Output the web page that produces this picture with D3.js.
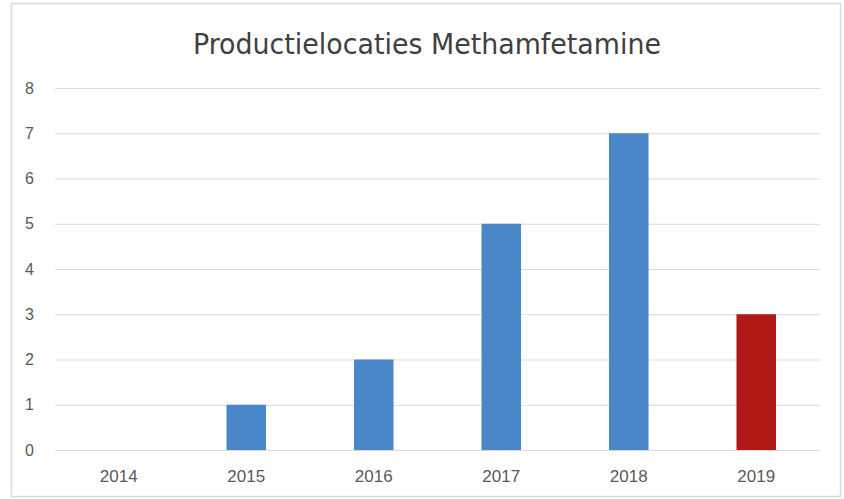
<!DOCTYPE html>
<html>
<head>
<meta charset="utf-8">
<script src="https://cdn.jsdelivr.net/npm/d3@7"></script>
<style>
  body { margin: 0; background: #fff; }
  svg { display: block; }
</style>
</head>
<body>
<svg id="chart"></svg>
<script>
// chart data
const years = ["2014", "2015", "2016", "2017", "2018", "2019"];
const locations = [0, 1, 2, 5, 7, 3];
const barColors = ["#4a87c9", "#4a87c9", "#4a87c9", "#4a87c9", "#4a87c9", "#b01916"];
const yTicks = [0, 1, 2, 3, 4, 5, 6, 7, 8];
const title = "Productielocaties Methamfetamine";

const svgWidth = 844, svgHeight = 499;
const margin = {top: 88, right: 24, bottom: 49, left: 55};
const width = svgWidth - margin.left - margin.right;
const height = svgHeight - margin.top - margin.bottom;

const svg = d3.select("#chart")
    .attr("width", svgWidth)
    .attr("height", svgHeight);

// outer frame
svg.append("rect")
    .attr("x", 11.5).attr("y", 3.5)
    .attr("width", 829).attr("height", 493)
    .attr("fill", "#fff")
    .attr("stroke", "#d9d9d9")
    .attr("stroke-width", 1.5);

svg.append("text")
    .attr("x", 427)
    .attr("y", 54)
    .attr("text-anchor", "middle")
    .attr("font-family", "'Liberation Sans Narrow', 'DejaVu Sans Condensed', 'Liberation Sans', sans-serif")
    .attr("font-size", 29)
    .attr("fill", "#404040")
    .attr("textLength", 468)
    .attr("lengthAdjust", "spacingAndGlyphs")
    .text(title);

const g = svg.append("g")
    .attr("transform", "translate(" + margin.left + "," + margin.top + ")");

const x = d3.scaleBand()
    .domain(years)
    .range([0, width])
    .paddingInner(0.69)
    .paddingOuter(0.345);

const y = d3.scaleLinear()
    .domain([0, 8])
    .range([height, 0]);

// gridlines + y labels
const yAxis = g.append("g")
    .call(d3.axisLeft(y).tickValues(yTicks).tickSize(-width).tickPadding(21).tickFormat(d3.format("d")));
yAxis.select(".domain").remove();
yAxis.selectAll(".tick line").attr("stroke", "#d9d9d9").attr("stroke-width", 1);
yAxis.selectAll(".tick text")
    .attr("font-family", "'Liberation Sans', Arial, sans-serif")
    .attr("font-size", 16)
    .attr("fill", "#595959");

// x labels
const xAxis = g.append("g")
    .attr("transform", "translate(0," + height + ")")
    .call(d3.axisBottom(x).tickSize(0).tickPadding(20));
xAxis.select(".domain").remove();
xAxis.selectAll(".tick text")
    .attr("font-family", "'Liberation Sans', Arial, sans-serif")
    .attr("font-size", 17)
    .attr("fill", "#595959");

g.selectAll(".bar")
    .data(years)
    .enter().append("rect")
    .attr("class", "bar")
    .attr("x", d => x(d))
    .attr("width", x.bandwidth())
    .attr("y", (d, i) => y(locations[i]))
    .attr("height", (d, i) => height - y(locations[i]))
    .attr("fill", (d, i) => barColors[i]);
</script>
</body>
</html>
